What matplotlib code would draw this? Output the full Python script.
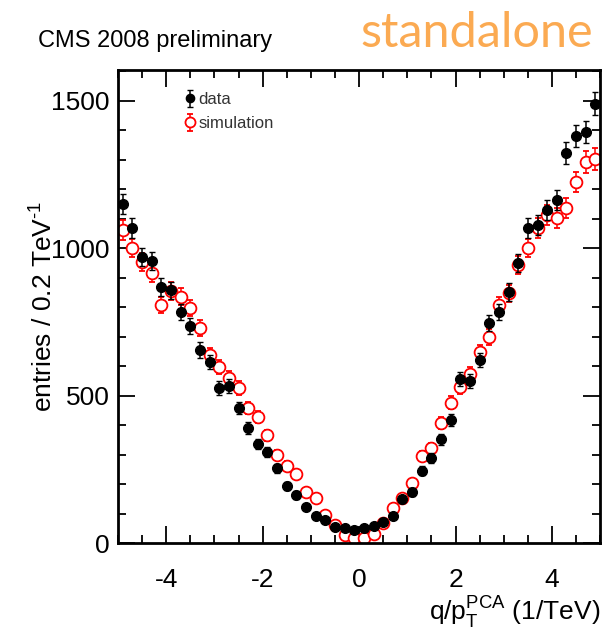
import numpy as np
import matplotlib
matplotlib.use("Agg")
import matplotlib.pyplot as plt
from matplotlib.ticker import MultipleLocator

# bin centres of q/pT (1/TeV), 0.2 wide bins
bins = np.arange(-4.9, 5.0, 0.2)

data = [1150, 1069, 970, 957, 869, 858, 784, 736, 655, 614,
        526, 533, 458, 390, 336, 309, 254, 193, 163, 122,
        92, 78, 54, 51, 44, 51, 58, 71, 92, 149,
        173, 246, 288, 352, 417, 556, 550, 621, 746, 784,
        852, 950, 1069, 1079, 1130, 1164, 1323, 1381, 1395, 1490]

simulation = [1062, 1001, 953, 916, 808, 855, 835, 797, 730, 638,
              597, 560, 526, 458, 428, 366, 299, 261, 234, 173,
              153, 95, 61, 27, 17, 17, 31, 68, 119, 153,
              204, 297, 322, 409, 477, 529, 573, 648, 699, 808,
              848, 943, 1001, 1069, 1113, 1103, 1137, 1225, 1293, 1303]

data = np.array(data, dtype=float)
simulation = np.array(simulation, dtype=float)

plt.rcParams['font.family'] = ['Liberation Sans', 'DejaVu Sans']
plt.rcParams['axes.unicode_minus'] = False
plt.rcParams['mathtext.fontset'] = 'custom'
plt.rcParams['mathtext.rm'] = 'Liberation Sans'

fig = plt.figure(figsize=(6.02, 6.36), dpi=100)
ax = fig.add_axes([0.196, 0.146, 0.801, 0.744])

ax.errorbar(bins, simulation, yerr=np.sqrt(simulation), fmt='o', color='red',
            mfc='white', mec='red', mew=1.3, ms=8.5, elinewidth=1.1, capsize=2.5,
            label='simulation', zorder=2)
ax.errorbar(bins, data, yerr=np.sqrt(data), fmt='o', color='black',
            ms=7, elinewidth=1.1, capsize=2.5, label='data', zorder=3)

ax.set_xlim(-5, 5)
ax.set_ylim(0, 1605)
ax.xaxis.set_major_locator(MultipleLocator(2))
ax.xaxis.set_minor_locator(MultipleLocator(0.5))
ax.yaxis.set_major_locator(MultipleLocator(500))
ax.yaxis.set_minor_locator(MultipleLocator(100))
ax.tick_params(which='both', direction='in', top=True, right=True, width=1.3)
ax.tick_params(which='major', length=12, labelsize=19)
ax.tick_params(axis='x', which='major', pad=18)
ax.tick_params(axis='y', which='major', pad=6)
ax.tick_params(which='minor', length=6)
for s in ax.spines.values():
    s.set_linewidth(2)

ax.set_ylabel(r'entries / 0.2 TeV$^{\text{-1}}$', fontsize=19, labelpad=-4)
ax.set_xlabel(r'q/p$_\mathregular{T}^\mathregular{PCA}$ (1/TeV)', fontsize=19,
              loc='right', labelpad=2)

h, l = ax.get_legend_handles_labels()
leg = ax.legend(h[::-1], l[::-1], loc='upper left', bbox_to_anchor=(0.1, 0.985),
                frameon=False, fontsize=12, handletextpad=0.05, handlelength=1.0,
                labelspacing=0.55, markerscale=0.85)
for t in leg.get_texts():
    t.set_color('#333333')

fig.text(0.063, 0.926, 'CMS 2008 preliminary', fontsize=17)
fig.text(0.598, 0.926, 'standalone', fontsize=35, color='#FBAA52', family='Lato')

fig.savefig('out.png', dpi=100)
